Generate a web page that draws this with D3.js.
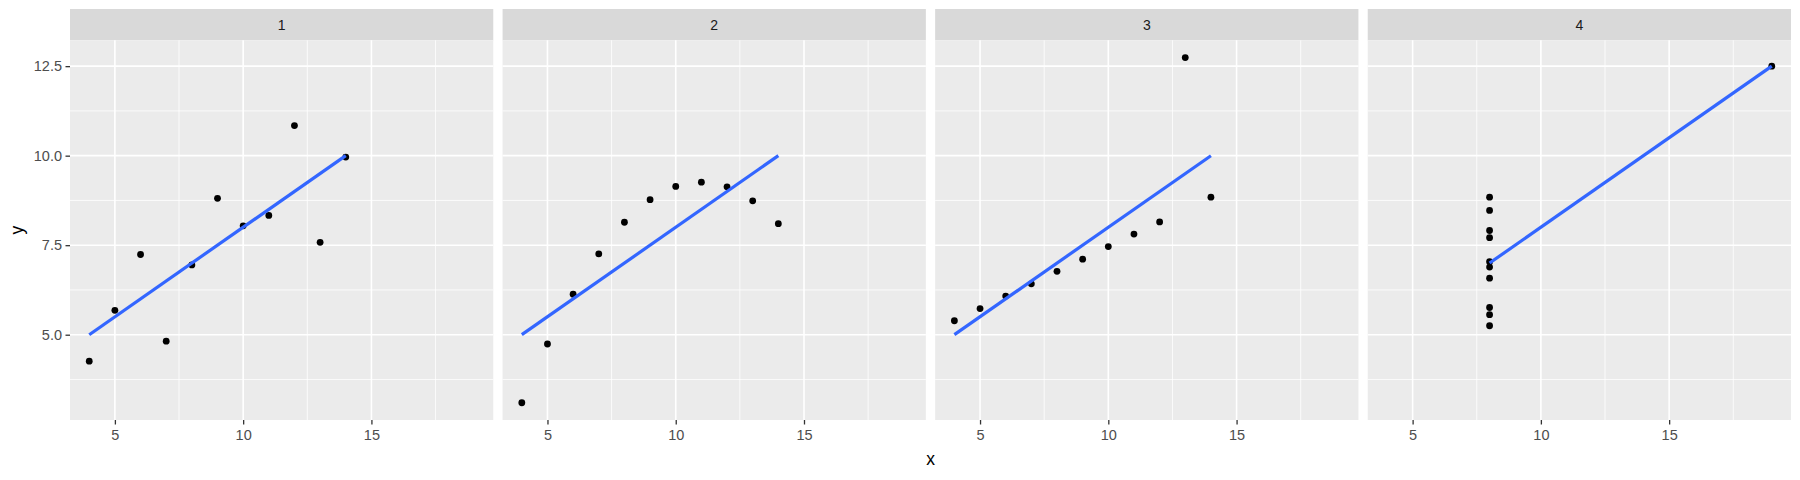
<!DOCTYPE html>
<html>
<head>
<meta charset="utf-8">
<script src="https://cdn.jsdelivr.net/npm/d3@7"></script>
<style>
  body { margin: 0; background: #fff; }
  text { font-family: "Liberation Sans", Arial, sans-serif; }
</style>
</head>
<body>
<div id="chart"></div>
<script>
// Anscombe's quartet, one panel per set
var setNames = ["1", "2", "3", "4"];
var x1 = [10, 8, 13, 9, 11, 14, 6, 4, 12, 7, 5];
var y1 = [8.04, 6.95, 7.58, 8.81, 8.33, 9.96, 7.24, 4.26, 10.84, 4.82, 5.68];
var x2 = [10, 8, 13, 9, 11, 14, 6, 4, 12, 7, 5];
var y2 = [9.14, 8.14, 8.74, 8.77, 9.26, 8.10, 6.13, 3.10, 9.13, 7.26, 4.74];
var x3 = [10, 8, 13, 9, 11, 14, 6, 4, 12, 7, 5];
var y3 = [7.46, 6.77, 12.74, 7.11, 7.81, 8.84, 6.08, 5.39, 8.15, 6.42, 5.73];
var x4 = [8, 8, 8, 8, 8, 8, 8, 19, 8, 8, 8];
var y4 = [6.58, 5.76, 7.71, 8.84, 8.47, 7.04, 5.25, 12.50, 5.56, 7.91, 6.89];

var xTicks = [5, 10, 15];
var xMinor = [7.5, 12.5, 17.5];
var yTicks = [5.0, 7.5, 10.0, 12.5];
var yMinor = [3.75, 6.25, 8.75, 11.25];

var xs = [x1, x2, x3, x4], ys = [y1, y2, y3, y4];

// set the dimensions of the panel grid
var W = 1800, H = 480;
var left = 70, right = 1791, stripTop = 9, panelTop = 40.3, panelBottom = 420, gap = 9.3;
var panelW = (right - left - gap * 3) / 4;

var svg = d3.select("#chart").append("svg")
    .attr("width", W)
    .attr("height", H);

// shared scales (ggplot adds 5% on each side)
var allX = d3.merge(xs), allY = d3.merge(ys);
var xExt = d3.extent(allX), yExt = d3.extent(allY);
var xPad = (xExt[1] - xExt[0]) * 0.05, yPad = (yExt[1] - yExt[0]) * 0.05;

var x = d3.scaleLinear()
    .domain([xExt[0] - xPad, xExt[1] + xPad])
    .range([0, panelW]);
var y = d3.scaleLinear()
    .domain([yExt[0] - yPad, yExt[1] + yPad])
    .range([panelBottom, panelTop]);

// least squares fit, like geom_smooth(method = "lm")
function lmFit(xv, yv) {
  var mx = d3.mean(xv), my = d3.mean(yv);
  var sxy = d3.sum(xv, function(d, i) { return (d - mx) * (yv[i] - my); });
  var sxx = d3.sum(xv, function(d) { return (d - mx) * (d - mx); });
  var b = sxy / sxx;
  return { a: my - b * mx, b: b };
}

setNames.forEach(function(name, k) {
  var px = left + k * (panelW + gap);
  var g = svg.append("g").attr("transform", "translate(" + px + ",0)");

  // strip
  g.append("rect")
    .attr("x", 0).attr("y", stripTop)
    .attr("width", panelW).attr("height", panelTop - stripTop)
    .attr("fill", "#D9D9D9");
  g.append("text")
    .attr("x", panelW / 2).attr("y", (stripTop + panelTop) / 2 + 5)
    .attr("text-anchor", "middle")
    .style("font-size", "14px")
    .style("fill", "#1A1A1A")
    .text(name);

  // panel background
  g.append("rect")
    .attr("x", 0).attr("y", panelTop)
    .attr("width", panelW).attr("height", panelBottom - panelTop)
    .attr("fill", "#EBEBEB");

  // minor grid
  g.selectAll(".xminor").data(xMinor).enter().append("line")
    .attr("x1", function(d) { return x(d); }).attr("x2", function(d) { return x(d); })
    .attr("y1", panelTop).attr("y2", panelBottom)
    .attr("stroke", "#fff").attr("stroke-width", 0.8);
  g.selectAll(".yminor").data(yMinor).enter().append("line")
    .attr("x1", 0).attr("x2", panelW)
    .attr("y1", function(d) { return y(d); }).attr("y2", function(d) { return y(d); })
    .attr("stroke", "#fff").attr("stroke-width", 0.8);

  // major grid
  g.selectAll(".xmajor").data(xTicks).enter().append("line")
    .attr("x1", function(d) { return x(d); }).attr("x2", function(d) { return x(d); })
    .attr("y1", panelTop).attr("y2", panelBottom)
    .attr("stroke", "#fff").attr("stroke-width", 1.6);
  g.selectAll(".ymajor").data(yTicks).enter().append("line")
    .attr("x1", 0).attr("x2", panelW)
    .attr("y1", function(d) { return y(d); }).attr("y2", function(d) { return y(d); })
    .attr("stroke", "#fff").attr("stroke-width", 1.6);

  // x axis
  var xAxis = g.append("g")
    .attr("transform", "translate(0," + panelBottom + ")")
    .call(d3.axisBottom(x).tickValues(xTicks).tickSize(4.5).tickPadding(5));
  xAxis.select(".domain").remove();
  xAxis.selectAll("line").attr("stroke", "#333333").attr("stroke-width", 1.3);
  xAxis.selectAll("text")
    .style("font-size", "14.5px")
    .style("font-family", "'Liberation Sans', Arial, sans-serif")
    .attr("fill", "#4D4D4D");

  // y axis only on the first panel
  if (k === 0) {
    var yAxis = g.append("g")
      .call(d3.axisLeft(y).tickValues(yTicks).tickSize(4.5).tickPadding(3.5)
        .tickFormat(d3.format(".1f")));
    yAxis.select(".domain").remove();
    yAxis.selectAll("line").attr("stroke", "#333333").attr("stroke-width", 1.3);
    yAxis.selectAll("text")
      .style("font-size", "14.5px")
      .style("font-family", "'Liberation Sans', Arial, sans-serif")
      .attr("fill", "#4D4D4D");
  }

  // points
  var pts = xs[k].map(function(d, i) { return { x: d, y: ys[k][i] }; });
  g.selectAll(".dot").data(pts).enter().append("circle")
    .attr("cx", function(d) { return x(d.x); })
    .attr("cy", function(d) { return y(d.y); })
    .attr("r", 3.4)
    .attr("fill", "#000");

  // fitted line over the data range
  var fit = lmFit(xs[k], ys[k]);
  var xr = d3.extent(xs[k]);
  g.append("line")
    .attr("x1", x(xr[0])).attr("y1", y(fit.a + fit.b * xr[0]))
    .attr("x2", x(xr[1])).attr("y2", y(fit.a + fit.b * xr[1]))
    .attr("stroke", "#3366FF")
    .attr("stroke-width", 3.2);
});

// axis titles
svg.append("text")
  .attr("x", (left + right) / 2).attr("y", 465)
  .attr("text-anchor", "middle")
  .style("font-size", "17.5px")
  .style("fill", "#000")
  .text("x");

svg.append("text")
  .attr("transform", "translate(23," + (panelTop + panelBottom) / 2 + ") rotate(-90)")
  .attr("text-anchor", "middle")
  .style("font-size", "17.5px")
  .style("fill", "#000")
  .text("y");
</script>
</body>
</html>
